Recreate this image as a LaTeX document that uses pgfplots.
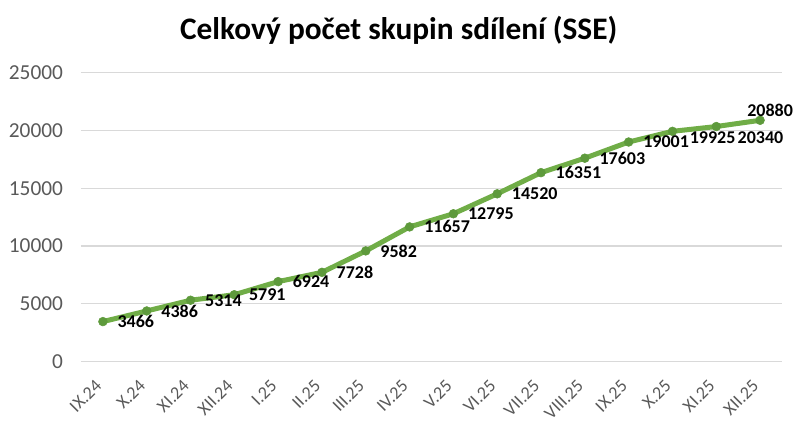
\documentclass[border=0pt]{standalone}
\usepackage{pgfplots}
\pgfplotsset{compat=1.18}
\usepackage{fontspec}
\setmainfont{Carlito}
\definecolor{linegreen}{HTML}{70AD47}
\definecolor{markgreen}{HTML}{5E9A3C}
\definecolor{tickgray}{HTML}{595959}
\definecolor{gridgray}{HTML}{D9D9D9}
\begin{document}
\begin{tikzpicture}[x=1pt,y=1pt]
\path[use as bounding box] (0,0) rectangle (600,323.25);
\node[anchor=base, font=\fontsize{23.5}{26}\selectfont\bfseries] at (299,293.25) {Celkový počet skupin sdílení (SSE)};
\begin{axis}[
  at={(60.75pt,52pt)}, anchor=south west,
  scale only axis, width=525.75pt, height=216.75pt,
  xmin=-0.5, xmax=15.5, ymin=0, ymax=25000,
  ytick={0,5000,10000,15000,20000,25000},
  scaled y ticks=false,
  xtick={0,...,15},
  xticklabels={IX.24,X.24,XI.24,XII.24,I.25,II.25,III.25,IV.25,V.25,VI.25,VII.25,VIII.25,IX.25,X.25,XI.25,XII.25},
  /pgf/number format/assume math mode=true,
  /pgf/number format/1000 sep={},
  axis line style={draw=none},
  major tick length=0pt,
  ymajorgrids, grid style={gridgray, line width=0.9pt},
  yticklabel style={font=\fontsize{16}{19}\selectfont, text=tickgray, anchor=east, xshift=-10pt},
  xticklabel style={xshift=-6.5pt, yshift=-8pt, font=\fontsize{13.5}{16}\selectfont, text=tickgray, rotate=45, anchor=north east},
  clip=false,
]
\addplot[linegreen, line width=3.75pt, mark=*, mark size=3.3pt, mark options={solid, fill=markgreen, draw=markgreen, line width=0.4pt}] coordinates {
(0,3466) (1,4386) (2,5314) (3,5791) (4,6924) (5,7728) (6,9582) (7,11657) (8,12795) (9,14520) (10,16351) (11,17603) (12,19001) (13,19925) (14,20340) (15,20880)};
\addplot[draw=none, mark=none, nodes near coords={\pgfmathprintnumber{\pgfplotspointmeta}}, every node near coord/.style={anchor=west, font=\fontsize{13.5}{16}\selectfont\bfseries, xshift=7.5pt, yshift=0pt}] coordinates {
(0,3466) (1,4386) (2,5314) (3,5791) (4,6924) (5,7728) (6,9582) (7,11657) (8,12795) (9,14520) (10,16351) (11,17603) (12,19001)};
\addplot[draw=none, mark=none, nodes near coords={\pgfmathprintnumber{\pgfplotspointmeta}}, every node near coord/.style={anchor=west, font=\fontsize{13.5}{16}\selectfont\bfseries, xshift=9.5pt, yshift=-5pt}] coordinates {
(13,19925)};
\addplot[draw=none, mark=none, nodes near coords={\pgfmathprintnumber{\pgfplotspointmeta}}, every node near coord/.style={anchor=west, font=\fontsize{13.5}{16}\selectfont\bfseries, xshift=12.5pt, yshift=-8pt}] coordinates {
(14,20340)};
\addplot[draw=none, mark=none, nodes near coords={\pgfmathprintnumber{\pgfplotspointmeta}}, every node near coord/.style={anchor=south, font=\fontsize{13.5}{16}\selectfont\bfseries, xshift=7.5pt, yshift=-1pt}] coordinates {
(15,20880)};
\end{axis}
\end{tikzpicture}
\end{document}
